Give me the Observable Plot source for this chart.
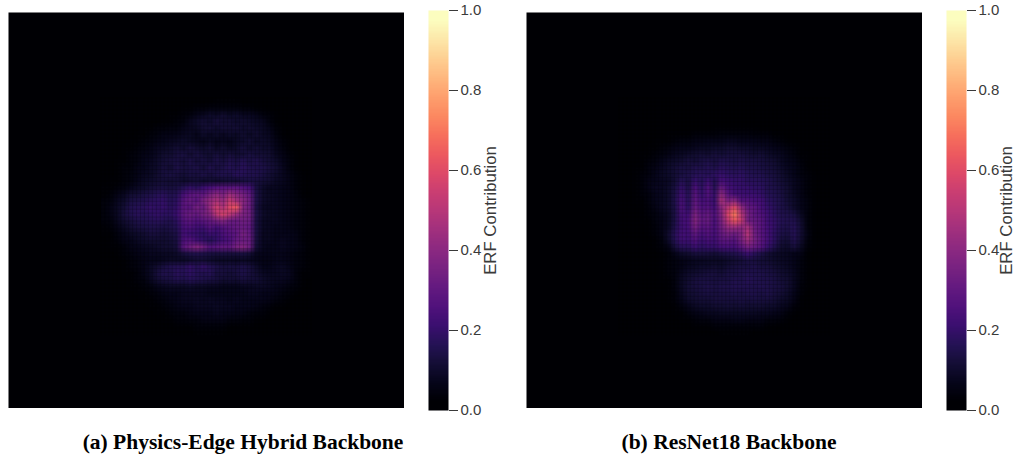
<!DOCTYPE html>
<html>
<head>
<meta charset="utf-8">
<script src="https://cdn.jsdelivr.net/npm/d3@7"></script>
<script src="https://cdn.jsdelivr.net/npm/@observablehq/plot@0.6"></script>
<style>
html,body{margin:0;padding:0;background:#fff;}
#root{position:relative;width:1015px;height:457px;overflow:hidden;}
#root svg{position:absolute;display:block;}
.cap{position:absolute;top:430px;width:460px;text-align:center;font:bold 21.5px "Liberation Serif",serif;color:#000;white-space:nowrap;}
</style>
</head>
<body>
<div id="root"></div>
<script>
// ERF contribution, in hundredths (window of a 60x60 cell map)
const windowCols = [14, 46];
const windowRows = [13, 49];
const erfHybrid = [
[0,0,0,0,0,0,0,0,0,0,0,0,0,0,0,0,0,1,1,1,1,0,0,0,0,0,0,0,0,0,0,0],
[0,0,0,0,0,0,0,0,0,0,0,0,1,1,2,2,3,3,3,3,3,2,2,1,1,0,0,0,0,0,0,0],
[0,0,0,0,0,0,0,0,0,0,1,1,2,3,5,6,8,7,9,7,8,6,6,5,3,2,1,0,0,0,0,0],
[0,0,0,0,0,0,0,0,0,1,1,2,3,6,8,10,8,11,9,10,8,9,8,7,6,3,1,0,0,0,0,0],
[0,0,0,0,0,0,1,1,2,2,3,3,5,6,7,9,10,8,10,9,10,8,9,8,7,5,2,1,0,0,0,0],
[0,0,0,0,0,1,1,2,3,4,4,5,6,7,5,8,6,8,6,8,7,9,7,9,7,6,3,1,0,0,0,0],
[0,0,0,0,1,1,2,3,4,5,6,7,8,7,6,5,7,5,6,5,7,8,10,7,8,7,4,2,1,0,0,0],
[0,0,0,1,1,2,3,4,6,7,8,10,8,11,9,8,10,7,9,7,8,11,8,10,8,8,5,3,1,0,0,0],
[0,0,0,1,2,3,4,5,7,9,9,11,12,9,12,10,9,11,9,11,9,10,12,10,10,9,6,4,2,1,0,0],
[0,0,1,1,2,3,5,6,8,10,11,12,10,13,10,12,10,13,11,14,12,15,12,14,11,10,8,5,3,1,0,0],
[0,0,1,2,2,4,5,7,8,11,9,13,11,12,13,10,14,11,13,15,13,16,14,13,13,11,9,6,3,1,0,0],
[0,0,1,2,3,4,6,7,9,11,12,11,10,12,11,13,11,13,14,13,16,15,14,14,12,10,8,6,4,2,1,0],
[0,1,1,2,3,5,7,8,9,10,9,10,8,9,10,8,9,8,9,10,9,11,12,11,10,9,7,6,4,2,1,0],
[1,1,2,3,5,7,8,10,11,12,11,12,15,18,16,20,23,26,27,27,28,25,22,12,8,6,6,5,4,2,1,0],
[1,2,4,6,9,10,12,13,15,16,14,15,23,27,29,28,34,40,35,44,38,34,29,13,8,7,6,5,4,3,1,0],
[2,3,6,8,12,13,14,16,17,18,15,17,27,31,27,36,42,48,42,54,46,39,32,13,8,7,6,5,4,3,2,1],
[2,4,7,10,14,15,16,18,17,19,16,18,28,27,34,31,43,56,48,60,64,38,32,12,7,6,6,5,4,3,2,1],
[2,4,7,11,14,16,15,17,18,17,17,20,29,32,30,34,38,52,58,52,44,36,33,13,8,7,6,5,4,3,2,1],
[2,3,6,9,11,13,14,15,16,15,14,17,26,28,25,28,30,34,38,32,31,33,31,12,7,6,6,5,4,3,2,1],
[1,2,4,7,9,11,12,13,13,12,13,15,23,24,21,21,26,22,26,28,30,31,29,12,7,6,5,5,4,3,2,1],
[1,1,3,5,7,8,9,11,11,10,11,13,22,20,19,17,20,19,24,26,28,35,30,12,6,6,5,5,5,4,2,1],
[0,1,2,4,5,7,8,9,9,9,10,12,24,26,21,18,15,18,22,24,30,32,31,11,6,6,5,6,5,4,2,1],
[0,1,1,2,4,5,6,7,8,9,9,11,28,33,38,33,26,28,30,29,35,38,32,10,6,5,5,6,5,4,3,1],
[0,0,1,2,3,4,5,6,6,7,7,8,11,13,14,13,12,11,12,11,11,12,10,6,5,5,5,5,4,3,2,1],
[0,0,0,1,2,3,4,5,5,6,7,7,7,8,9,9,8,7,7,7,6,7,6,5,4,4,5,5,4,3,2,1],
[0,0,0,1,2,3,4,7,9,12,14,15,15,18,15,18,15,13,11,12,11,13,11,8,5,5,6,7,5,3,2,1],
[0,0,0,1,1,2,4,7,11,14,13,16,15,17,15,14,15,11,11,10,11,13,11,9,7,6,6,7,6,3,1,1],
[0,0,0,0,1,2,3,6,9,11,12,14,13,15,14,13,12,11,9,10,9,11,10,10,8,7,6,6,5,3,1,0],
[0,0,0,0,1,1,2,3,5,6,7,7,7,8,7,7,6,6,5,5,5,6,6,7,7,6,5,4,3,2,1,0],
[0,0,0,0,0,1,1,2,3,4,5,5,6,6,6,6,5,5,5,5,5,5,6,6,5,5,4,3,2,1,0,0],
[0,0,0,0,0,0,1,1,2,3,4,5,6,6,7,6,7,6,6,5,6,5,5,5,5,4,3,2,1,0,0,0],
[0,0,0,0,0,0,0,1,1,2,3,4,5,5,6,6,6,7,6,6,5,5,5,4,3,2,1,1,0,0,0,0],
[0,0,0,0,0,0,0,0,1,1,2,3,3,4,5,5,5,6,5,5,4,4,3,2,2,1,0,0,0,0,0,0],
[0,0,0,0,0,0,0,0,0,1,1,2,2,3,3,4,4,4,4,3,3,2,2,1,1,0,0,0,0,0,0,0],
[0,0,0,0,0,0,0,0,0,0,0,1,1,1,2,2,2,2,2,1,1,1,1,0,0,0,0,0,0,0,0,0],
[0,0,0,0,0,0,0,0,0,0,0,0,0,0,1,1,1,1,1,0,0,0,0,0,0,0,0,0,0,0,0,0]
];
const erfResNet = [
[0,0,0,0,0,0,0,0,0,0,0,0,0,0,0,0,0,0,0,0,0,0,0,0,0,0,0,0,0,0,0,0],
[0,0,0,0,0,0,0,0,0,0,0,0,0,0,0,0,0,0,0,0,0,0,0,0,0,0,0,0,0,0,0,0],
[0,0,0,0,0,0,0,0,0,0,0,0,0,0,0,0,0,0,0,0,0,0,0,0,0,0,0,0,0,0,0,0],
[0,0,0,0,0,0,0,0,0,0,0,0,0,0,0,0,0,0,0,0,0,0,0,0,0,0,0,0,0,0,0,0],
[0,0,0,0,0,0,0,0,0,0,0,0,0,0,1,1,1,1,1,1,1,0,0,0,0,0,0,0,0,0,0,0],
[0,0,0,0,0,0,0,1,1,1,1,2,2,2,2,3,3,3,3,3,2,2,2,1,1,0,0,0,0,0,0,0],
[0,0,0,0,0,1,1,1,2,3,3,4,4,5,5,5,6,6,5,5,5,4,4,3,2,1,1,0,0,0,0,0],
[0,0,0,0,1,1,2,3,4,5,5,6,7,7,8,8,9,9,8,8,7,7,6,5,4,3,2,1,0,0,0,0],
[0,0,0,1,1,2,3,4,6,7,8,9,10,9,11,10,11,11,11,10,9,10,8,7,6,4,3,1,1,0,0,0],
[0,0,0,1,2,3,5,7,8,9,11,10,12,13,11,14,13,12,13,12,12,11,10,9,7,5,4,2,1,0,0,0],
[0,0,1,1,3,4,6,8,10,12,11,14,13,15,13,16,15,14,15,13,13,12,11,10,8,6,5,3,1,0,0,0],
[0,0,1,2,3,5,7,8,10,12,13,15,16,15,17,19,17,16,17,15,14,14,12,11,9,7,5,3,2,1,0,0],
[0,0,1,2,4,5,6,7,10,15,12,19,15,20,14,23,20,18,18,16,16,15,14,12,10,8,6,4,2,1,0,0],
[0,0,1,2,4,6,6,8,12,18,13,24,17,25,15,31,23,20,19,19,17,17,14,13,11,9,6,4,2,1,0,0],
[0,0,1,2,3,5,6,8,13,21,15,27,19,25,18,40,27,22,21,20,20,18,15,14,12,9,7,4,2,1,0,0],
[0,0,1,1,3,5,6,8,14,23,16,29,22,24,19,47,36,40,26,26,23,22,17,15,13,10,8,5,3,1,0,0],
[0,0,0,1,2,4,6,8,13,24,17,31,24,26,21,40,50,60,42,30,28,23,19,16,13,11,8,5,3,1,0,0],
[0,0,0,1,2,3,5,7,13,23,21,36,27,30,24,38,58,72,50,34,28,25,21,17,14,13,12,7,3,1,0,0],
[0,0,0,1,1,3,4,7,13,22,23,38,29,31,23,36,52,64,54,33,30,27,21,18,15,14,14,9,3,1,0,0],
[0,0,0,0,1,2,4,7,14,21,22,34,26,28,23,33,42,44,40,46,32,27,22,18,14,13,15,10,3,1,0,0],
[0,0,0,0,1,2,4,9,16,22,21,29,23,26,22,30,34,32,36,50,33,27,22,17,13,12,15,10,4,1,0,0],
[0,0,0,0,0,1,3,8,15,21,20,25,20,23,21,27,28,26,34,44,34,28,22,17,11,10,14,9,3,1,0,0],
[0,0,0,0,0,1,2,4,11,16,16,20,17,19,18,22,23,22,27,34,30,26,19,14,9,8,11,7,2,1,0,0],
[0,0,0,0,0,0,1,2,5,8,9,11,11,11,10,12,13,14,16,20,16,13,10,8,7,6,5,4,1,0,0,0],
[0,0,0,0,0,0,1,2,3,4,5,6,6,7,7,7,8,9,10,12,11,10,9,8,7,6,5,3,1,0,0,0],
[0,0,0,0,0,0,1,2,3,4,6,7,8,8,9,8,10,11,12,12,13,11,11,9,8,7,5,3,1,0,0,0],
[0,0,0,0,0,0,1,2,3,6,8,9,10,11,11,10,12,12,13,14,13,13,12,11,9,8,6,3,1,0,0,0],
[0,0,0,0,0,0,1,1,3,7,9,11,12,12,11,12,12,14,13,15,14,13,13,12,10,9,6,3,1,0,0,0],
[0,0,0,0,0,0,0,1,3,7,10,11,12,13,12,13,13,14,14,14,13,14,13,12,11,9,6,2,1,0,0,0],
[0,0,0,0,0,0,0,1,2,6,9,10,11,12,11,12,12,13,12,13,13,12,13,11,10,8,5,2,0,0,0,0],
[0,0,0,0,0,0,0,1,2,5,8,9,10,10,11,11,11,11,12,11,12,11,11,10,8,7,4,1,0,0,0,0],
[0,0,0,0,0,0,0,0,1,3,5,7,8,8,9,9,10,9,10,9,9,9,8,8,6,5,2,1,0,0,0,0],
[0,0,0,0,0,0,0,0,1,1,3,4,5,6,6,7,7,7,7,7,7,6,6,5,4,2,1,0,0,0,0,0],
[0,0,0,0,0,0,0,0,0,1,1,2,3,3,4,4,4,5,5,4,4,4,3,3,2,1,0,0,0,0,0,0],
[0,0,0,0,0,0,0,0,0,0,0,1,1,1,2,2,2,2,2,2,2,2,1,1,0,0,0,0,0,0,0,0],
[0,0,0,0,0,0,0,0,0,0,0,0,0,0,0,1,1,1,1,1,0,0,0,0,0,0,0,0,0,0,0,0]
];
const colorbarStops = [1,.95,.9,.85,.8,.75,.7,.65,.6,.55,.5,.45,.4,.35,.3,.25,.2,.15,.1,.05,0];
const colorbarTicks = [0,.2,.4,.6,.8,1];
const captions = ["(a) Physics-Edge Hybrid Backbone", "(b) ResNet18 Backbone"];
const colorLabel = "ERF Contribution";

const colorScale = {type:"linear", scheme:"magma", domain:[0,1]};
const root = document.getElementById("root");
const latticeX = d3.range(windowCols[0], windowCols[1], 0.6);
const latticeY = d3.range(windowRows[0], windowRows[1], 0.6);

function heatmap(rows, left){
  const flat = rows.flat().map(v => v/100);
  const svg = Plot.plot({
    width:396, height:396, margin:0,
    x:{domain:[0,60], axis:null},
    y:{domain:[60,0], axis:null},
    color:colorScale,
    marks:[
      Plot.raster([0],{width:1,height:1,x1:0,x2:60,y1:0,y2:60,fill:d=>d}),
      Plot.raster(flat,{width:rows[0].length,height:rows.length,
        x1:windowCols[0],x2:windowCols[1],y1:windowRows[0],y2:windowRows[1],fill:d=>d}),
      Plot.ruleX(latticeX,{x:d=>d,y1:windowRows[0],y2:windowRows[1],stroke:"#000004",strokeOpacity:0.2,strokeWidth:1}),
      Plot.ruleY(latticeY,{y:d=>d,x1:windowCols[0],x2:windowCols[1],stroke:"#000004",strokeOpacity:0.2,strokeWidth:1})
    ]
  });
  svg.style.left = left+"px"; svg.style.top = "12px";
  root.appendChild(svg);
}
function colorbar(left, labelShift, svgWidth){
  const svg = Plot.plot({
    width:svgWidth, height:420, marginLeft:0, marginRight:svgWidth-20, marginTop:10, marginBottom:10,
    style:{fontFamily:"'Liberation Sans',Arial,sans-serif", fontSize:"15px", color:"#3a3a3a", background:"transparent"},
    x:{domain:[0,1], axis:null},
    y:{domain:[0,1]},
    color:colorScale,
    marks:[
      Plot.raster(colorbarStops,{width:1,height:colorbarStops.length,x1:0,x2:1,y1:1,y2:0,fill:d=>d}),
      Plot.axisY({anchor:"right", ticks:colorbarTicks, tickFormat:".1f", tickSize:9, tickPadding:3, label:null}),
      Plot.text([colorLabel],{frameAnchor:"right", text:d=>d, rotate:-90, dx:labelShift, fontSize:16.8, textAnchor:"middle", fill:"#3a3a3a"})
    ]
  });
  svg.style.left = left+"px"; svg.style.top = "0px";
  root.appendChild(svg);
}
heatmap(erfHybrid, 8);
colorbar(428, 42, 90);
heatmap(erfResNet, 526);
colorbar(946, 40.5, 69);
[13,499].forEach((x,i)=>{
  const d=document.createElement("div");
  d.className="cap"; d.style.left=x+"px"; d.textContent=captions[i];
  root.appendChild(d);
});
</script>
</body>
</html>
